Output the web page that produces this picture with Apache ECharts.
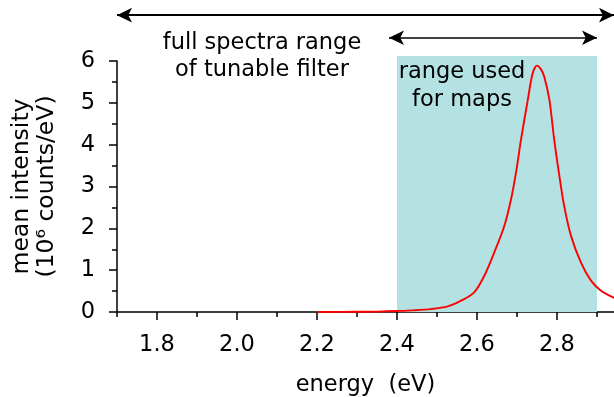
<!DOCTYPE html>
<html>
<head>
<meta charset="utf-8">
<script src="https://cdn.jsdelivr.net/npm/echarts@6/dist/echarts.min.js"></script>
<style>
  html, body { margin: 0; padding: 0; background: #fff; }
  #chart { width: 614px; height: 397px; }
</style>
</head>
<body>
<div id="chart"></div>
<script>
// spectrum
const energy = [2.20, 2.30, 2.35, 2.40, 2.44, 2.485, 2.527, 2.56, 2.593, 2.618, 2.643, 2.668, 2.685, 2.6975, 2.71, 2.727, 2.739, 2.75, 2.76, 2.768, 2.781, 2.793, 2.806, 2.818, 2.835, 2.86, 2.885, 2.91, 2.945];
const intensity = [0, 0.005, 0.01, 0.025, 0.04, 0.07, 0.135, 0.27, 0.47, 0.86, 1.42, 2.05, 2.69, 3.33, 4.12, 5.07, 5.70, 5.89, 5.80, 5.63, 5.07, 4.12, 3.25, 2.53, 1.82, 1.18, 0.75, 0.51, 0.33];

const majorTicks = [1.8, 2.0, 2.2, 2.4, 2.6, 2.8];
const minorTicks = [1.7, 1.9, 2.1, 2.3, 2.5, 2.7, 2.9];
const mapRange = [2.4, 2.9];
const fullArrow = [1.7, 2.9425];
const mapArrow = [2.38, 2.9];

const xMin = 1.7, xMax = 2.9425;
// overlay grid reaches the top of the canvas, same data scale as the plot
const gridTop = 61, gridBottom = 85, H = 397;
const overlayMax = 6 * (H - gridBottom) / (H - gridBottom - gridTop);
const font = "DejaVu Sans";
const fs = 22.5;

var chart = echarts.init(document.getElementById("chart"));

var points = energy.map(function (e, i) { return [e, intensity[i]]; });

function txt(s, x, y) {
  return {
    type: "text", x: x, y: y, z: 100,
    style: { text: s, font: fs + "px DejaVu Sans", fill: "#000", align: "center", verticalAlign: "middle" }
  };
}

var option = {
  animation: false,
  grid: [
    { left: 117, right: 0, top: gridTop, bottom: gridBottom, outerBoundsMode: "none", containLabel: false },
    { left: 117, right: 0, top: 0, bottom: gridBottom, outerBoundsMode: "none", containLabel: false }
  ],
  xAxis: [
    {
      type: "value",
      gridIndex: 0,
      min: xMin,
      max: xMax,
      name: "energy  (eV)",
      nameLocation: "middle",
      nameGap: 62,
      nameTextStyle: { fontFamily: font, fontSize: fs, color: "#000" },
      axisLine: { lineStyle: { color: "#000", width: 1.5 } },
      axisTick: { customValues: majorTicks, length: 8, lineStyle: { color: "#000", width: 1.5 } },
      axisLabel: {
        customValues: majorTicks,
        margin: 22,
        fontFamily: font,
        fontSize: fs,
        color: "#000",
        formatter: function (v) { return v.toFixed(1); }
      },
      splitLine: { show: false }
    },
    {
      type: "value",
      gridIndex: 0,
      position: "bottom",
      min: xMin,
      max: xMax,
      axisLine: { show: false },
      axisTick: { customValues: minorTicks, length: 5, lineStyle: { color: "#000", width: 1.5 } },
      axisLabel: { show: false },
      splitLine: { show: false }
    },
    {
      type: "value",
      gridIndex: 1,
      min: xMin,
      max: xMax,
      show: false
    }
  ],
  yAxis: [
    {
      type: "value",
      gridIndex: 0,
      min: 0,
      max: 6,
      interval: 1,
      name: "mean intensity\n(10⁶ counts/eV)",
      nameLocation: "middle",
      nameGap: 58,
      nameTextStyle: { fontFamily: font, fontSize: 23.5, color: "#000", lineHeight: 25 },
      axisLine: { show: true, lineStyle: { color: "#000", width: 1.5 } },
      axisTick: { show: true, length: 8, lineStyle: { color: "#000", width: 1.5 } },
      minorTick: { show: true, splitNumber: 2, length: 5, lineStyle: { color: "#000", width: 1.5 } },
      axisLabel: { margin: 22, fontFamily: font, fontSize: fs, color: "#000" },
      splitLine: { show: false }
    },
    {
      type: "value",
      gridIndex: 1,
      min: 0,
      max: overlayMax,
      show: false
    }
  ],
  series: [
    {
      type: "line",
      xAxisIndex: 2,
      yAxisIndex: 1,
      data: [],
      z: 1,
      markArea: {
        silent: true,
        itemStyle: { color: "#b4e2e2" },
        data: [[{ xAxis: mapRange[0], yAxis: 0 }, { xAxis: mapRange[1], yAxis: 6.12 }]]
      },
      markLine: {
        silent: true,
        symbol: ["arrow", "arrow"],
        symbolSize: [11, 15],
        label: { show: false },
        lineStyle: { color: "#000", width: 2, type: "solid" },
        data: [
          [{ coord: [fullArrow[0], 7.095] }, { coord: [fullArrow[1], 7.095] }],
          [{ coord: [mapArrow[0], 6.555], lineStyle: { width: 1.5 } }, { coord: [mapArrow[1], 6.555] }]
        ]
      }
    },
    {
      type: "line",
      xAxisIndex: 0,
      yAxisIndex: 0,
      data: points,
      smooth: 0.3,
      symbol: "none",
      clip: false,
      lineStyle: { color: "#ff0000", width: 1.9 },
      z: 3
    }
  ],
  graphic: [
    txt("full spectra range", 262, 43),
    txt("of tunable filter", 262, 70),
    txt("range used", 462, 72),
    txt("for maps", 462, 100)
  ]
};

chart.setOption(option);
</script>
</body>
</html>
